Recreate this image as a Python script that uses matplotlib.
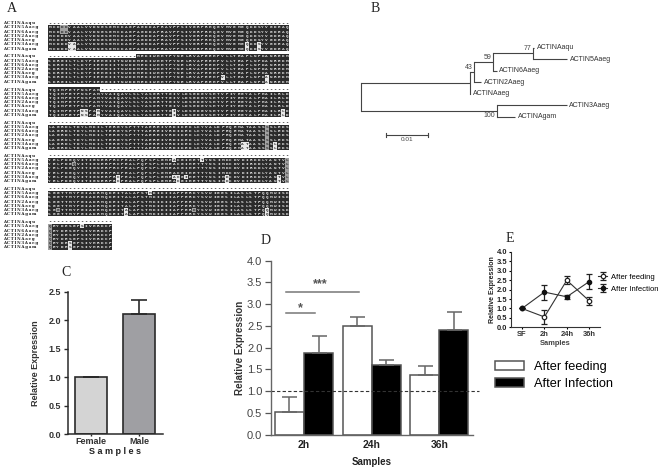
import numpy as np
import matplotlib; matplotlib.use("Agg")
import matplotlib.pyplot as plt
from matplotlib.patches import Rectangle

W, H = 662, 472
plt.rcParams["font.family"] = ["Liberation Sans", "DejaVu Sans"]

# ---- panel A data ----
seq_names = ["ACTINAaqu", "ACTIN5Aaeg", "ACTIN6Aaeg", "ACTIN2Aaeg", "ACTINAaeg", "ACTIN3Aaeg", "ACTINAgam"]
actin_seq = ("MCDDDVAALVVDNGSGMCKAGFAGDDAPRAVFPSIVGRPRHQGVMVGMGQKDSYVGDEAQ"
             "SKRGILTLKYPIEHGIITNWDDMEKIWHHTFYNELRVAPEEHPVLLTEAPLNPKANREKM"
             "TQIMFETFNSPAMYVAIQAVLSLYASGRTTGIVLDSGDGVSHTVPIYEGYALPHAILRLD"
             "LAGRDLTDYLMKILTERGYSFTTTAEREIVRDIKEKLCYVALDFEQEMATAASSSSLEKS"
             "YELPDGQVITIGNERFRCPEALFQPSFLGMEACGIHETTYNSIMKCDVDIRKDLYANTVL"
             "SGGTTMYPGIADRMQKEITALAPSTMKIKIIAPPERKYSVWIGGSILASLSTFQQMWISK"
             "QEYDESGPSIVHRKCF")
# residues present in the first row of each block: (first col, last col + 1)
aqu_present = [(0, 0), (22, 60), (0, 13), (0, 0), (0, 0), (0, 0), (0, 0)]
# highlighted cells: block, row, col
cells_light = [(0,5,5),(0,5,6),(0,6,5),(0,6,6),(0,5,49),(0,6,49),(0,5,52),(0,6,52),
               (1,5,43),(1,5,54),(1,6,54),
               (2,5,8),(2,5,9),(2,6,8),(2,6,9),(2,5,12),(2,6,12),(2,5,31),(2,6,31),(2,5,58),(2,6,58),
               (3,5,48),(3,5,49),(3,6,48),(3,6,49),(3,5,56),(3,6,56),
               (4,1,31),(4,1,38),(4,5,17),(4,6,17),(4,5,31),(4,5,32),(4,6,32),(4,5,34),
               (4,5,44),(4,6,44),(4,5,57),(4,6,57),
               (5,1,25),(5,5,19),(5,6,19),(5,5,54),(5,6,54),
               (6,1,8),(6,5,5),(6,6,5)]
cells_mid = [(0,1,3),(0,1,4),(0,2,3),(0,2,4),(3,1,54),(3,2,54),(3,3,54),(3,4,54),(3,5,54),(3,6,54),
             (4,2,6),(4,1,59),(4,2,59),(4,3,59),(4,4,59),(4,5,59),(4,6,59),
             (5,5,2),(5,5,36),(6,1,0),(6,2,0),(6,3,0),(6,4,0),(6,5,0),(6,6,0)]

# ---- panel B data (branch lengths, substitutions per site) ----
tree = ((((((("ACTINAaqu", 0.0003), ("ACTIN5Aaeg", 0.0081), 0.0096, "77"),
            ("ACTIN6Aaeg", 0.0009), 0.0044, "59"),
           ("ACTIN2Aaeg", 0.0016), 0.0010, "43"),
          ("ACTINAaeg", 0.0), 0.0259, ""),
         (("ACTIN3Aaeg", 0.0167), ("ACTINAgam", 0.0044), 0.0322, "100"), 0.0, ""))

# ---- panel C data ----
c_labels = ["Female", "Male"]
c_values = [1.0, 2.1]
c_errors = [0.0, 0.25]
c_colors = ["#d4d4d4", "#9f9fa3"]

# ---- panel D data ----
d_labels = ["2h", "24h", "36h"]
d_feeding = [0.52, 2.50, 1.38]
d_feeding_err = [0.34, 0.21, 0.20]
d_infection = [1.87, 1.60, 2.41]
d_infection_err = [0.39, 0.12, 0.40]

# ---- panel E data ----
e_labels = ["SF", "2h", "24h", "36h"]
e_feeding = [1.0, 0.55, 2.50, 1.40]
e_feeding_err = [0.0, 0.35, 0.20, 0.20]
e_infection = [1.0, 1.87, 1.62, 2.43]
e_infection_err = [0.0, 0.40, 0.12, 0.40]


def px_axes(left, right, top, bottom):
    return fig.add_axes([left/W, 1-bottom/H, (right-left)/W, (bottom-top)/H])


def style_axes(ax, color, lw):
    for s in ["top", "right"]:
        ax.spines[s].set_visible(False)
    for s in ["left", "bottom"]:
        ax.spines[s].set_color(color); ax.spines[s].set_linewidth(lw)
    ax.patch.set_alpha(0)


fig = plt.figure(figsize=(W/100, H/100), dpi=100)
page = fig.add_axes([0, 0, 1, 1]); page.set_xlim(0, W); page.set_ylim(H, 0); page.axis("off")

for name, x, y in [("A", 12, 8), ("B", 375, 9), ("C", 66, 273), ("D", 266, 240), ("E", 510, 239)]:
    page.text(x, y, name, family="Liberation Serif", fontsize=10, ha="center", va="center", color="#222222")

# ========== A. Alignment ==========
mono = "Liberation Mono"
col_w, row_h, x0 = 4.02, 4.22, 47.7
res_fs = 3.2
lines = [actin_seq[i:i+60] for i in range(0, len(actin_seq), 60)]
light = set(cells_light); mid = set(cells_mid)
for b, line in enumerate(lines):
    top = 21.1 + 33.15*b
    n = len(line)
    page.add_patch(Rectangle((x0, top+row_h), n*col_w, 6*row_h, color="#2b2b2b", lw=0))
    for r, name in enumerate(seq_names):
        yc = top + row_h*(r+0.5)
        page.text(3, yc, "\u2009".join(name), family="DejaVu Serif", fontweight="bold", fontsize=2.9,
                  va="center", color="#222222")
        a, e = aqu_present[b] if r == 0 else (0, n)
        if r == 0 and e > a:
            page.add_patch(Rectangle((x0+a*col_w, top), (e-a)*col_w, row_h, color="#2b2b2b", lw=0))
        for c in range(n):
            cx = x0 + (c+0.5)*col_w
            if not a <= c < e:
                page.text(cx, yc, "-", family=mono, fontweight="bold", fontsize=res_fs+0.6, ha="center", va="center", color="#222222")
                continue
            tc = "#e4e4e4"
            if (b, r, c) in light or (b, r, c) in mid:
                fc = "#e8e8e8" if (b, r, c) in light else "#a0a0a0"
                page.add_patch(Rectangle((x0+c*col_w, top+r*row_h), col_w, row_h, color=fc, lw=0))
                tc = "#333333"
            page.text(cx, yc, line[c], family=mono, fontweight="bold", fontsize=res_fs,
                      ha="center", va="center", color=tc)

# ========== B. Tree ==========
tree_x0, unit, leaf_y0, leaf_dy = 361.3, 4200.0, 47.7, 11.5
leaf_i = [0]


def draw_node(node, x):
    # returns y of this node; x is the position of the node itself
    if isinstance(node[0], str):
        y = leaf_y0 + leaf_dy*leaf_i[0]; leaf_i[0] += 1
        return y, node[0]
    ys = []
    for child in node[:2]:
        blen = child[1] if isinstance(child[0], str) else child[2]
        cx = x + blen*unit
        cy, name = draw_node(child, cx)
        page.plot([x, cx], [cy, cy], color="#444444", lw=0.8, solid_capstyle="butt")
        if name:
            page.text(cx+2.5, cy, name, fontsize=5.0, va="center", color="#333333")
        ys.append(cy)
    page.plot([x, x], ys, color="#444444", lw=0.8)
    y = sum(ys)/2
    if node[3]:
        dy = 5 if node[3] == "100" else -5
        page.text(x-1.5, y+dy, node[3], fontsize=5.0, ha="right", va="center", color="#444444")
    return y, ""


draw_node(tree, tree_x0)
bar_x, bar_y = 386.3, 134.7
page.plot([bar_x, bar_x+0.01*unit], [bar_y, bar_y], color="#444444", lw=0.8)
for bx in [bar_x, bar_x+0.01*unit]:
    page.plot([bx, bx], [bar_y-2, bar_y+2], color="#444444", lw=0.8)
page.text(bar_x+0.005*unit, bar_y+4.8, "0.01", fontsize=4.6, ha="center", va="center", color="#444444")

# ========== C. Sex bars ==========
ax = px_axes(67.7, 163, 291.7, 434)
ax.bar(range(2), c_values, width=0.667, color=c_colors, edgecolor="#2a2a2a", lw=1.2,
       yerr=[[0, 0], c_errors], error_kw=dict(ecolor="#2a2a2a", elinewidth=1.2, capsize=6, capthick=1.2))
ax.set_xlim(-0.49, 1.49); ax.set_ylim(0, 2.5)
ax.set_xticks(range(2)); ax.set_xticklabels(c_labels, fontsize=6.5, fontweight="bold", color="#333333")
ax.set_yticks(np.arange(0, 2.6, 0.5))
ax.set_yticklabels([f"{v:.1f}" for v in np.arange(0, 2.6, 0.5)], fontsize=6.5, fontweight="bold", color="#333333")
ax.tick_params(axis="y", length=3, width=1, pad=2, color="#2a2a2a")
ax.tick_params(axis="x", length=1.5, width=1, pad=1, color="#2a2a2a")
ax.set_ylabel("Relative Expression", fontsize=6.5, fontweight="bold", color="#333333", labelpad=6)
ax.set_xlabel("S a m p l e s", fontsize=6.5, fontweight="bold", color="#222222", labelpad=0.5)
style_axes(ax, "#2a2a2a", 1.1)

# ========== D. Time course bars ==========
ax = px_axes(270.7, 473, 260.7, 434.7)
x = np.arange(3)
bw = 0.43
err_kw = dict(ecolor="#666666", elinewidth=1.1, capsize=5.4, capthick=1.1)
ax.bar(x-bw/2, d_feeding, bw, color="white", edgecolor="#555555", lw=1.1, label="After feeding",
       yerr=[[0]*3, d_feeding_err], error_kw=err_kw)
ax.bar(x+bw/2, d_infection, bw, color="black", edgecolor="#555555", lw=1.1, label="After Infection",
       yerr=[[0]*3, d_infection_err], error_kw=err_kw)
ax.axhline(1.0, xmax=1.03, color="#333333", lw=0.8, ls=(0, (3, 2)), clip_on=False)
ax.set_xlim(-0.493, 2.50); ax.set_ylim(0, 4)
ax.plot([-0.27, 0.81], [3.29, 3.29], color="#777777", lw=1.1)
ax.plot([-0.27, 0.163], [2.79, 2.79], color="#777777", lw=1.1)
ax.text(0.245, 3.45, "***", fontsize=9, fontweight="bold", ha="center", va="center", color="#555555")
ax.text(-0.05, 2.90, "*", fontsize=9, fontweight="bold", ha="center", va="center", color="#555555")
ax.set_xticks(x); ax.set_xticklabels(d_labels, fontsize=7.5, fontweight="bold", color="#222222")
ax.set_yticks(np.arange(0, 4.1, 0.5))
ax.set_yticklabels([f"{v:.1f}" for v in np.arange(0, 4.1, 0.5)], fontsize=8, color="#444444")
ax.tick_params(axis="y", length=4.5, width=0.9, pad=1.5, color="#555555")
ax.tick_params(axis="x", length=0, pad=4)
ax.set_ylabel("Relative Expression", fontsize=7.1, fontweight="bold", color="#333333", labelpad=1.5)
ax.set_xlabel("Samples", fontsize=7, fontweight="bold", color="#222222", labelpad=5)
style_axes(ax, "#666666", 1)
h, l = ax.get_legend_handles_labels()
fig.legend(h, l, loc="center left", bbox_to_anchor=(495/W, 1-375.5/H), frameon=False, fontsize=9.2,
           handlelength=2.3, handleheight=0.62, labelspacing=0.38, handletextpad=0.75, borderpad=0, borderaxespad=0)

# ========== E. Inset lines ==========
ax = px_axes(511, 600, 252, 327.3)
ax.errorbar(range(4), e_feeding, yerr=e_feeding_err, color="#333333", lw=0.8, marker="o", ms=3.2, mfc="white",
            mec="#222222", mew=0.9, ecolor="#222222", elinewidth=0.9, capsize=2.2, capthick=0.9, label="After feeding")
ax.errorbar(range(4), e_infection, yerr=e_infection_err, color="#333333", lw=0.8, marker="o", ms=3.0, mfc="#111111",
            mec="#111111", ecolor="#222222", elinewidth=0.9, capsize=2.2, capthick=0.9, label="After Infection")
ax.set_xlim(-0.49, 3.48); ax.set_ylim(0, 4)
ax.set_xticks(range(4)); ax.set_xticklabels(e_labels, fontsize=5.4, fontweight="bold", color="#333333")
ax.set_yticks(np.arange(0, 4.1, 0.5))
ax.set_yticklabels([f"{v:.1f}" for v in np.arange(0, 4.1, 0.5)], fontsize=5.4, fontweight="bold", color="#222222")
ax.tick_params(length=1.5, width=0.8, pad=1)
ax.set_ylabel("Relative Expression", fontsize=5.0, fontweight="bold", color="#222222", labelpad=1)
ax.set_xlabel("Samples", fontsize=5.4, fontweight="bold", color="#444444", labelpad=1.5)
style_axes(ax, "#333333", 0.8)
h, l = ax.get_legend_handles_labels()
fig.legend(h, l, loc="center left", bbox_to_anchor=(598/W, 1-283/H), frameon=False, fontsize=5.5,
           handlelength=1.2, labelspacing=0.6, handletextpad=0.45, borderpad=0, borderaxespad=0)

fig.savefig("out.png", dpi=100)
